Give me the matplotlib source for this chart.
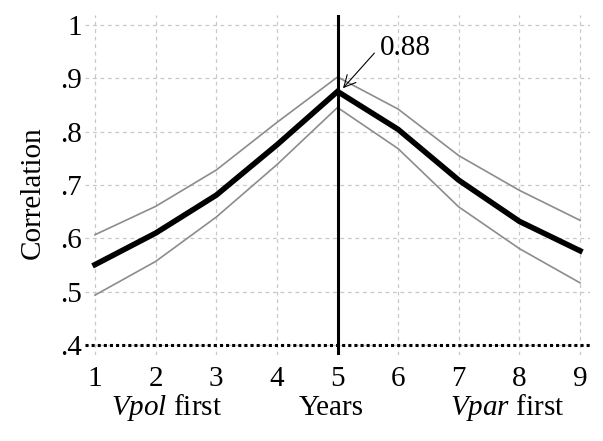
import numpy as np
from matplotlib import pyplot as plt

# years / correlation values
years = [1, 2, 3, 4, 5, 6, 7, 8, 9]
corr = [0.551, 0.610, 0.681, 0.775, 0.875, 0.804, 0.709, 0.632, 0.577]
corr_hi = [0.607, 0.660, 0.728, 0.817, 0.902, 0.842, 0.755, 0.690, 0.634]
corr_lo = [0.494, 0.557, 0.640, 0.738, 0.845, 0.768, 0.659, 0.581, 0.517]
ytick_vals = [0.4, 0.5, 0.6, 0.7, 0.8, 0.9, 1.0]
ytick_labels = [".4", ".5", ".6", ".7", ".8", ".9", "1"]
peak_label = "0.88"

plt.rcParams['font.family'] = ['Liberation Serif', 'DejaVu Serif']
plt.rcParams['mathtext.fontset'] = 'custom'
plt.rcParams['mathtext.rm'] = 'Liberation Serif'
plt.rcParams['mathtext.it'] = 'Liberation Serif:italic'
fs = 21

fig = plt.figure(figsize=(6.03, 4.41), dpi=100)
ax = fig.add_axes([85/603, 1-355/441, 505/603, 340/441])

ax.plot(years, corr_hi, color="#8c8c8c", lw=1.2, zorder=3)
ax.plot(years, corr_lo, color="#8c8c8c", lw=1.2, zorder=3)
ax.plot(years, corr, color="black", lw=4, zorder=4, solid_joinstyle='miter')

ax.axvline(5, color="black", lw=2.2, zorder=5)
ax.axhline(0.4, color="black", lw=2.2, ls=(0, (1, 1)), zorder=5)

ax.annotate(peak_label, xy=(5.09, 0.881), xytext=(5.7, 0.956),
            fontsize=fs, va="center", ha="left",
            arrowprops=dict(arrowstyle="->", color="black", lw=0.8,
                            shrinkA=3, shrinkB=0, relpos=(0, 0.55)))

ax.set_xlim(0.835, 9.165)
ax.set_ylim(0.382, 1.018)
ax.set_xticks(years)
ax.set_yticks(ytick_vals)
ax.set_yticklabels(ytick_labels)
ax.tick_params(axis="both", length=0, labelsize=fs)
ax.tick_params(axis="x", pad=8)
ax.tick_params(axis="y", pad=2)
ax.grid(True, color="#c8c8c8", ls=(0, (3, 3)), lw=0.9)
for s in ax.spines.values():
    s.set_visible(False)

# x axis captions
ax.text(2.18, -0.155, "$\\mathit{Vpol}$ first", transform=ax.get_xaxis_transform(),
        ha="center", va="center", fontsize=fs)
ax.text(4.9, -0.155, "Years", transform=ax.get_xaxis_transform(),
        ha="center", va="center", fontsize=fs)
ax.text(7.8, -0.155, "$\\mathit{Vpar}$ first", transform=ax.get_xaxis_transform(),
        ha="center", va="center", fontsize=fs)

fig.text(32.5/603, 1-193/441, "Correlation", rotation=90, ha="center", va="center", fontsize=fs)

fig.savefig("out.png", dpi=100)
